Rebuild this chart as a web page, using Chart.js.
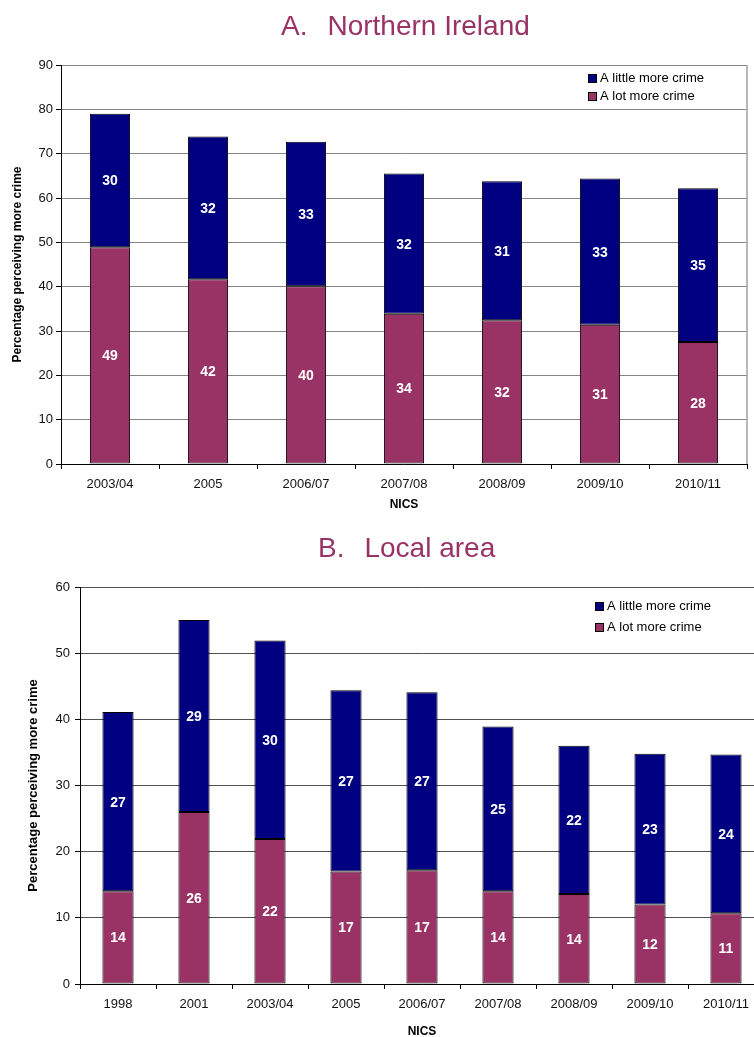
<!DOCTYPE html>
<html><head><meta charset="utf-8">
<script src="https://cdn.jsdelivr.net/npm/chart.js@4"></script>
<style>
html,body{margin:0;padding:0;background:#fff;overflow:hidden;width:754px;height:1037px;position:relative;}
.title{position:absolute;font-family:"Liberation Sans",Arial,sans-serif;font-size:28px;line-height:28px;color:#993366;white-space:nowrap;}
.title .gap{display:inline-block;width:20px;}
canvas{position:absolute;left:0;}
</style></head><body>
<canvas id="cA" width="754" height="520" style="top:0;width:754px;height:520px"></canvas>
<canvas id="cB" width="790" height="520" style="top:520px;width:790px;height:520px"></canvas>
<div class="title" style="left:281px;top:12px">A.<span class="gap"></span>Northern Ireland</div>
<div class="title" style="left:318px;top:534px">B.<span class="gap"></span>Local area</div>
<script>
// ---- data ----
const categoriesA = ['2003/04','2005','2006/07','2007/08','2008/09','2009/10','2010/11'];
const lotA    = [48.9, 41.7, 40.1, 33.9, 32.4, 31.4, 27.5];
const littleA = [30.1, 32.2, 32.6, 31.6, 31.4, 33.0, 34.7];

const categoriesB = ['1998','2001','2003/04','2005','2006/07','2007/08','2008/09','2009/10','2010/11'];
const lotB    = [14.0, 26.0, 21.9, 17.0, 17.2, 14.0, 13.6, 12.0, 10.7];
const littleB = [27.1, 29.0, 30.0, 27.4, 26.9, 24.9, 22.4, 22.8, 24.0];

const yRangeA = [0, 90];
const yRangeB = [0, 60];
const yStep = 10;
const seriesLot = 'A lot more crime';
const seriesLittle = 'A little more crime';
const axisTitleY = 'Percentage perceiving more crime';
const axisTitleX = 'NICS';

// ---- rendering ----
const FONT = '"Liberation Sans", Arial, sans-serif';
const COL_LOT = '#993366';
const COL_LITTLE = '#000080';

const valueLabels = {
  id: 'valueLabels',
  afterDatasetsDraw(chart) {
    const ctx = chart.ctx;
    ctx.save();
    ctx.font = 'bold 14px ' + FONT;
    ctx.fillStyle = '#fff';
    ctx.textAlign = 'center';
    ctx.textBaseline = 'middle';
    chart.data.datasets.forEach((ds, i) => {
      chart.getDatasetMeta(i).data.forEach((bar, j) => {
        ctx.fillText(String(Math.round(ds.data[j])), bar.x, (bar.y + bar.base) / 2 + 1);
      });
    });
    ctx.restore();
  }
};

const boxLegend = {
  id: 'boxLegend',
  afterDraw(chart, args, opts) {
    const ctx = chart.ctx, a = chart.chartArea;
    ctx.save();
    if (opts.rightBorder) {
      ctx.strokeStyle = '#a0a0a0';
      ctx.lineWidth = 1.5;
      ctx.beginPath();
      ctx.moveTo(a.right, a.top);
      ctx.lineTo(a.right, a.bottom);
      ctx.stroke();
    }
    ctx.font = '13px ' + FONT;
    ctx.textBaseline = 'middle';
    ctx.textAlign = 'left';
    const items = chart.data.datasets.slice().reverse();
    items.forEach((ds, k) => {
      const cy = Math.round(a.top + opts.top + k * opts.row);
      const bx = Math.round(a.left + opts.left);
      ctx.fillStyle = ds.backgroundColor;
      ctx.fillRect(bx, cy - 4, 9, 9);
      ctx.strokeStyle = '#000';
      ctx.lineWidth = 1;
      ctx.strokeRect(bx + 0.5, cy - 3.5, 8, 8);
      ctx.fillStyle = '#000';
      ctx.fillText(ds.label, bx + 12, cy);
    });
    ctx.restore();
  }
};

function makeChart(id, labels, lot, little, yRange, cfg) {
  return new Chart(document.getElementById(id), {
    type: 'bar',
    data: {
      labels: labels,
      datasets: [
        { label: seriesLot, data: lot, backgroundColor: COL_LOT, borderColor: '#000', borderWidth: 1, borderSkipped: false },
        { label: seriesLittle, data: little, backgroundColor: COL_LITTLE, borderColor: '#000', borderWidth: 1, borderSkipped: false }
      ]
    },
    options: {
      responsive: false,
      animation: false,
      devicePixelRatio: 1,
      layout: { padding: cfg.padding },
      datasets: { bar: { barPercentage: 0.41, categoryPercentage: 1 } },
      plugins: {
        legend: { display: false },
        title: { display: false },
        tooltip: { enabled: false },
        boxLegend: cfg.legend
      },
      scales: {
        x: {
          stacked: true,
          afterFit: s => { s.height = cfg.xHeight; },
          grid: { display: true, drawOnChartArea: false, drawTicks: true, tickLength: 5, color: '#000', tickColor: '#000', offset: true },
          border: { display: true, color: '#000', width: 1 },
          ticks: { color: '#111', font: { family: FONT, size: 13 }, padding: 8, maxRotation: 0, autoSkip: false },
          title: { display: true, text: axisTitleX, color: '#000', font: { family: FONT, size: 12, weight: 'bold' }, padding: { top: 0, bottom: cfg.xTitlePad } }
        },
        y: {
          stacked: true,
          min: yRange[0], max: yRange[1],
          afterFit: s => { s.width = cfg.yWidth; },
          grid: { color: cfg.gridColor, lineWidth: 1, tickLength: 5, tickColor: '#000', drawTicks: true },
          border: { display: true, color: '#000', width: 1 },
          ticks: { stepSize: yStep, color: '#111', font: { family: FONT, size: 13 }, padding: cfg.yTickPad },
          title: { display: true, text: axisTitleY, color: '#000', font: { family: FONT, size: cfg.yTitleSize, weight: 'bold' }, padding: { top: cfg.yTitlePad, bottom: 0 } }
        }
      }
    },
    plugins: [valueLabels, boxLegend]
  });
}

makeChart('cA', categoriesA, lotA, littleA, yRangeA, {
  padding: { top: 65, right: 7, left: 0, bottom: 0 },
  xHeight: 56, yWidth: 61, xTitlePad: 8, yTitlePad: 10, yTitleSize: 12, yTickPad: 3,
  gridColor: '#858585',
  legend: { left: 527, top: 13, row: 18, rightBorder: true }
});
makeChart('cB', categoriesB, lotB, littleB, yRangeB, {
  padding: { top: 67, right: 26, left: 0, bottom: 0 },
  xHeight: 56, yWidth: 80, xTitlePad: 1, yTitlePad: 26, yTitleSize: 13, yTickPad: 5,
  gridColor: '#505050',
  legend: { left: 515, top: 19, row: 21, rightBorder: false }
});
</script>
</body></html>
